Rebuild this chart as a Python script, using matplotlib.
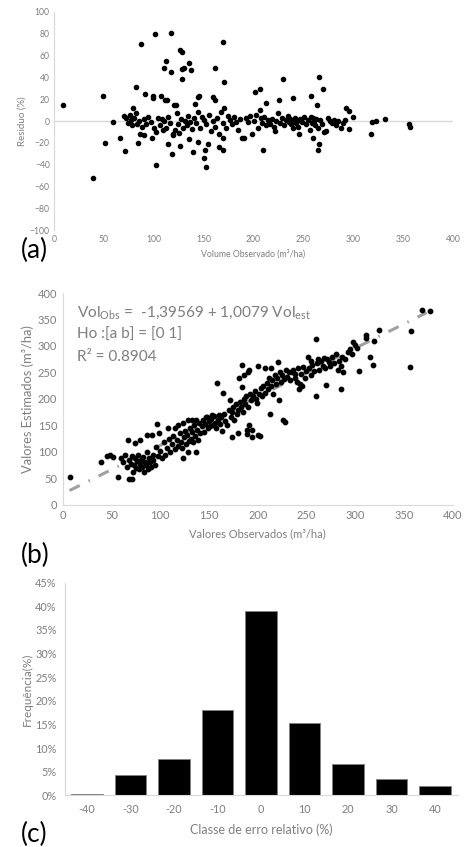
import numpy as np
import matplotlib.pyplot as plt
from matplotlib.ticker import FuncFormatter

plt.rcParams['font.family'] = ['Lato', 'DejaVu Sans']

# (a) residuos: volume observado x residuo (%)
res_x = [9, 49, 51, 39, 59, 66, 71, 79, 82, 87, 91, 84, 86, 90, 99, 99, 98, 101, 102, 107,
         108, 110, 112, 111, 113, 114, 117, 117, 118, 119, 120, 122, 126, 128, 128, 130, 128,
         126, 135, 137, 135, 139, 141, 144, 145, 144, 150, 152, 151, 154, 161, 159, 161, 169,
         170, 165, 169, 169, 202, 207, 210, 213, 226, 230, 240, 258, 266, 270, 264, 265, 266,
         260, 222, 246, 293, 296, 300, 296, 318, 319, 323, 332, 356, 357,
         70, 72, 74, 76, 77, 78, 80, 82, 83, 85, 88, 90, 92, 94, 97, 100, 102, 104, 106, 109,
         110, 112, 114, 116, 119, 121, 123, 124, 125, 127, 129, 131, 133, 134, 136, 138, 140,
         142, 144, 146, 148, 150, 152, 155, 157, 159, 161, 163, 165, 167, 169, 171, 173, 175,
         177, 179, 181, 183, 185, 187, 189, 191, 193, 195, 197, 199, 201, 203, 205, 207, 208,
         209, 211, 213, 215, 217, 219, 221, 223, 225, 227, 229, 231, 233, 235, 236, 237, 238,
         239, 240, 241, 242, 243, 244, 245, 247, 249, 251, 253, 255, 257, 258, 259, 260, 261,
         262, 263, 265, 267, 269, 271, 273, 275, 277, 279, 281, 283, 285, 288, 290, 292]
res_y = [15, 23, -20, -52, -1, -15, -27, 12, 31, 71, 25, -20, -12, -13, 23, 21, -15, 80, -40, 23,
         2, 49, 55, 19, 19, -21, 81, 45, -30, -13, 15, 15, 65, 63, 48, 49, 39,
         -23, 53, 47, -16, -28, 16, 22, 23, -19, -34, -42, -26, -21, 49, 22, 19, 72,
         36, -24, -26, -15, 27, 29, -26, 17, 19, 39, 21, 23, 40, 29, 15, -26, -21,
         -15, -9, -12, 12, 9, 4, -7, -12, -1, 0, 2, -3, -5,
         5, 3, -2, 6, 1, -4, 3, 7, -3, 0, -5, 2, -3, 4, -1, -6, -10, 3, -4, -8,
         0, -6, 4, -2, -12, -8, 7, -3, -11, 2, -6, 0, -4, 5, -1, -7, 3,
         -2, 8, -6, 4, 1, -3, 6, -9, 0, -5, 3, -12, 8, -2, 12, -6, 5,
         1, -3, 4, -1, -8, 2, -15, -15, 3, -1, 5, -12, 0, 6, -6, 10, 3,
         -2, 4, -4, 1, -3, 2, -5, 0, 7, -2, 3, -4, 1, 5, -1, 2, -3,
         0, -6, 1, 3, -2, 0, -5, 2, -1, 4, -3, 1, -8, 4, -2, 3, 0,
         -4, 2, -6, 1, -3, -10, -9, 3, 0, -2, 1, -4, 0, -6, -2, 1]

# (b) observados x estimados
obs = [7, 39, 45, 48, 52, 57, 67, 68, 71, 74, 79, 86, 91, 97, 96, 99, 108, 115, 118, 123,
       128, 123, 128, 137, 132, 137, 148, 153, 158, 164, 171, 173, 180, 189, 181, 184, 186,
       190, 184, 194, 200, 189, 191, 194, 191, 200, 207, 214, 202, 212, 222, 226, 228, 221,
       235, 238, 240, 243, 245, 242, 251, 255, 262, 268, 273, 260, 260, 270, 282, 285, 287,
       285, 300, 302, 298, 304, 311, 311, 315, 318, 319, 324, 357, 356, 368, 377,
       60, 62, 64, 66, 68, 70, 71, 72, 73, 74, 75, 76, 77, 78, 79, 80, 81, 82, 83, 84, 85,
       86, 87, 88, 89, 90, 92, 93, 95, 98, 100, 102,
       104, 105, 107, 109, 110, 112, 113, 115, 117, 118, 120, 121, 122, 124, 125, 126, 127,
       129, 130, 131, 133, 134, 135, 136, 138, 139, 140, 141, 143, 144, 145, 146, 147, 149,
       150, 151,
       152, 154, 155, 156, 157, 159, 160, 161, 162, 163, 165, 166, 168, 170, 172, 174, 175,
       176, 178, 179, 180, 182, 183, 185, 186, 187, 188, 190, 192, 193, 195, 197, 198, 199,
       201, 203, 204, 205, 207, 209, 210, 211, 213, 215, 216, 218, 219, 220, 223, 224, 225,
       227, 229, 230, 232, 233, 236, 238, 241, 244, 246, 248, 249,
       252, 254, 256, 258, 261, 263, 265, 267, 269, 271, 274, 276, 278, 280, 283, 286, 289,
       292, 295, 297]
est = [53, 80, 92, 95, 90, 53, 123, 49, 49, 117, 123, 132, 132, 153, 110, 136, 145, 145, 151, 155,
       160, 89, 100, 100, 160, 160, 166, 170, 230, 211, 198, 128, 135, 141, 240, 264, 245,
       250, 223, 128, 132, 134, 151, 142, 255, 262, 258, 258, 130, 172, 198, 160, 157, 270,
       250, 240, 232, 228, 225, 219, 280, 272, 275, 278, 270, 313, 206, 226, 255, 262, 250,
       218, 302, 296, 308, 252, 321, 315, 280, 264, 309, 330, 328, 261, 368, 367,
       88, 80, 95, 72, 85, 78, 92, 62, 75, 88, 70, 82, 95, 68, 78, 85, 72, 90, 62, 80, 75,
       100, 68, 88, 80, 72, 95, 85, 76, 92, 102, 88,
       118, 95, 108, 125, 100, 115, 130, 105, 122, 112, 135, 118, 108, 128, 140, 115, 132,
       120, 145, 125, 138, 118, 150, 130, 142, 122, 155, 135, 148, 160, 138, 152, 165, 145,
       158, 148,
       162, 150, 168, 155, 145, 160, 170, 152, 165, 140, 172, 158, 150, 180, 165, 175, 185,
       160, 190, 172, 180, 195, 185, 175, 200, 190, 205, 185, 210, 198, 205, 215, 200, 192,
       210, 220, 205, 225, 212, 230, 218, 240, 225, 235, 210, 245, 228, 240, 250, 232, 245,
       238, 255, 242, 250, 235, 255, 248, 258, 248, 260, 240, 252,
       258, 245, 265, 252, 268, 255, 272, 262, 258, 275, 262, 280, 268, 285, 272, 280, 276,
       288, 295, 285]
trend_intercept = 20.6
trend_slope = 0.918
trend_range = [7, 373]
equation = ['Vol$_{\\mathregular{Obs}}$ =  -1,39569 + 1,0079 Vol$_{\\mathregular{est}}$',
            'Ho :[a b] = [0 1]', 'R² = 0.8904']

# (c) histograma
classes = ['-40', '-30', '-20', '-10', '0', '10', '20', '30', '40']
freq = [0.35, 4.2, 7.6, 18.1, 39.0, 15.3, 6.6, 3.5, 2.0]

gray_txt = '#7f7f7f'
axis_col = '#d9d9d9'

fig = plt.figure(figsize=(4.65, 8.47), dpi=100)

# ---- (a)
ax1 = fig.add_axes([0.116, 0.728, 0.858, 0.258])
ax1.scatter(res_x, res_y, s=9, color='black', zorder=3)
ax1.axhline(0, color=axis_col, linewidth=1, zorder=1)
ax1.set_xlim(0, 400)
ax1.set_ylim(-100, 100)
ax1.set_xticks(range(0, 401, 50))
ax1.set_yticks(range(-100, 101, 20))
for s in ['top', 'right', 'bottom']:
    ax1.spines[s].set_visible(False)
ax1.spines['left'].set_color(axis_col)
ax1.tick_params(length=0, labelsize=6.2, labelcolor=gray_txt, pad=3)
ax1.set_xlabel('Volume Observado (m³/ha)', fontsize=6.3, color=gray_txt, labelpad=4)
ax1.set_ylabel('Residuo (%)', fontsize=7, color=gray_txt, labelpad=2)
fig.text(0.044, 0.695, '(a)', fontsize=19, color='black', va='baseline')

# ---- (b)
ax2 = fig.add_axes([0.135, 0.404, 0.839, 0.250])
tx = np.array(trend_range)
ax2.plot(tx, trend_intercept + trend_slope * tx, color='#a0a0a0', linewidth=2.2,
         dashes=(3.7, 3.2, 0.5, 3.2), zorder=2)
ax2.scatter(obs, est, s=10, color='black', zorder=3)
ax2.set_xlim(0, 400)
ax2.set_ylim(0, 400)
ax2.set_xticks(range(0, 401, 50))
ax2.set_yticks(range(0, 401, 50))
for s in ['top', 'right']:
    ax2.spines[s].set_visible(False)
ax2.spines['left'].set_color(axis_col)
ax2.spines['bottom'].set_color(axis_col)
ax2.tick_params(length=0, labelsize=8, labelcolor=gray_txt, pad=4)
ax2.set_xlabel('Valores Observados (m³/ha)', fontsize=8, color=gray_txt, labelpad=5)
ax2.set_ylabel('Valores Estimados (m³/ha)', fontsize=9.3, color=gray_txt, labelpad=3)
for i, line in enumerate(equation):
    ax2.text(0.036, 0.905 - i * 0.104, line, transform=ax2.transAxes, fontsize=11.1,
             color=gray_txt, va='center')
fig.text(0.044, 0.335, '(b)', fontsize=19, color='black', va='baseline')

# ---- (c)
ax3 = fig.add_axes([0.140, 0.061, 0.845, 0.251])
ax3.bar(range(len(classes)), freq, width=0.72, color='black', edgecolor='#7f7f7f',
        linewidth=0.6)
ax3.set_xlim(-0.5, len(classes) - 0.47)
ax3.set_ylim(0, 45)
ax3.set_yticks(range(0, 46, 5))
ax3.yaxis.set_major_formatter(FuncFormatter(lambda v, p: f'{int(v)}%'))
ax3.set_xticks(range(len(classes)))
ax3.set_xticklabels(classes)
for s in ['top', 'right']:
    ax3.spines[s].set_visible(False)
ax3.spines['left'].set_color(axis_col)
ax3.spines['bottom'].set_color(axis_col)
ax3.tick_params(length=0, labelsize=7.8, labelcolor=gray_txt, pad=6)
ax3.set_xlabel('Classe de erro relativo (%)', fontsize=9, color=gray_txt, labelpad=6)
ax3.set_ylabel('Frequência(%)', fontsize=8.5, color=gray_txt, labelpad=2)
fig.text(0.044, 0.006, '(c)', fontsize=19, color='black', va='baseline')

fig.savefig('out.png', dpi=100)
